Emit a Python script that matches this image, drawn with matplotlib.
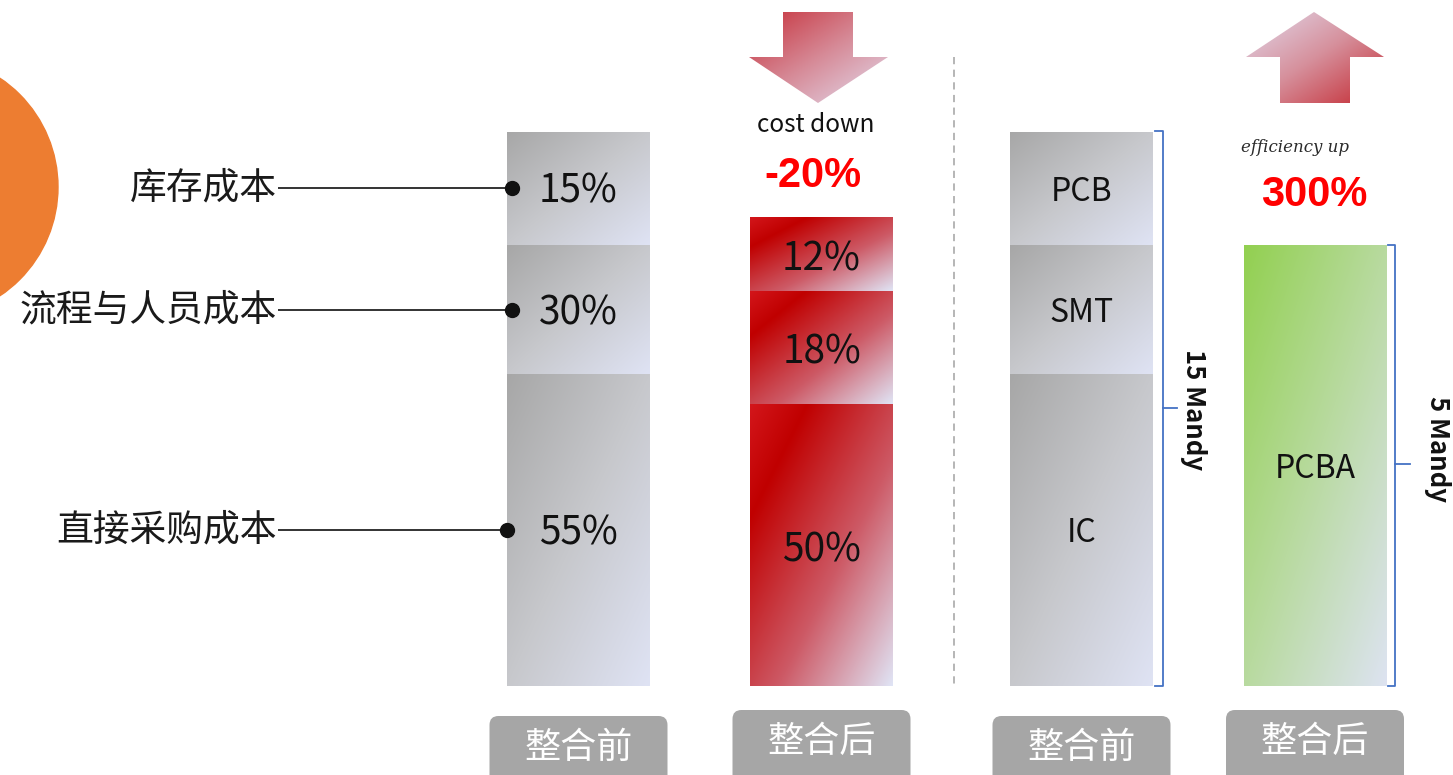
import numpy as np
import matplotlib
matplotlib.use('Agg')
import matplotlib.pyplot as plt
from matplotlib.colors import LinearSegmentedColormap
from matplotlib.patches import Polygon, FancyBboxPatch, Circle

plt.rcParams['font.family'] = ['Noto Sans CJK SC', 'DejaVu Sans']

# ---------------- data ----------------
cost_categories = ['直接采购成本', '流程与人员成本', '库存成本']   # bottom -> top
cost_before = [55, 30, 15]
cost_after = [50, 18, 12]
# drawn segment heights as they appear in the picture (first bar = 100)
cost_before_heights = [56.2, 23.2, 20.5]
cost_after_heights = [50.8, 20.4, 13.3]
process_before = ['IC', 'SMT', 'PCB']
process_before_heights = [56.2, 23.2, 20.5]
process_after = ['PCBA']
process_after_heights = [79.5]
stage_labels = ['整合前', '整合后', '整合前', '整合后']
cost_change = '-20%'
eff_change = '300%'
staff_before = '15 Mandy'
staff_after = '5 Mandy'

# ---------------- style ----------------
W, H = 1453, 775
bar_centers = [578.5, 821.5, 1081.5, 1315.0]
bar_width = 143
GRAY = ['#a7a7a7', '#c7c8cc', '#dfe3f4']
RED = [(0.0, '#d3161b'), (0.2, '#c00000'), (0.6, '#cd5a66'), (1.0, '#e0e4f5')]
GREEN = ['#92d050', '#b8da9f', '#dde3f1']
LIGHT = 'light'


def grad_img(stops, n=200):
    cmap = LinearSegmentedColormap.from_list('g', stops)
    u = np.linspace(0, 1, n)
    t = (u[None, :] + u[:, None]) / 2.0
    return cmap(t)


fig = plt.figure(figsize=(W / 100, H / 100), dpi=100)

# decoration axes in pixel coordinates
dax = fig.add_axes([0, 0, 1, 1], zorder=0)
dax.set_xlim(0, W)
dax.set_ylim(H, 0)
dax.axis('off')

# bar axes: y in drawn-height units, bottom at pixel 686, top (100) at pixel 131
bax = fig.add_axes([0, (H - 686) / H, 1, (686 - 131) / H], zorder=1)
bax.patch.set_alpha(0)
bax.axis('off')

# ---- orange circle ----
dax.add_patch(Circle((-73, 187), 131, color='#ed7d31', zorder=1))

# ---- bars ----
def stacked(xc, heights, stops, labels, fs, dy=-0.6):
    bottoms = np.concatenate([[0], np.cumsum(heights)[:-1]])
    bars = bax.bar([xc] * len(heights), heights, bottom=bottoms, width=bar_width,
                   color='none', edgecolor='none', zorder=2)
    img = grad_img(stops)
    for p, lab in zip(bars.patches, labels):
        bb = p.get_bbox()
        im = bax.imshow(img, extent=(bb.x0, bb.x1, bb.y0, bb.y1), origin='upper',
                        aspect='auto', interpolation='bilinear', zorder=1)
        im.set_clip_path(p)
        bax.text((bb.x0 + bb.x1) / 2, (bb.y0 + bb.y1) / 2 + dy, lab, ha='center', va='center',
                 fontsize=fs, color='#111111', fontweight=LIGHT, zorder=3)
    return bars

b1 = stacked(bar_centers[0], cost_before_heights, GRAY, [f'{v}%' for v in cost_before], 28)
b2 = stacked(bar_centers[1], cost_after_heights, RED, [f'{v}%' for v in cost_after], 28, dy=-1.0)
b3 = stacked(bar_centers[2], process_before_heights, GRAY, process_before, 23)
b4 = stacked(bar_centers[3], process_after_heights, GREEN, process_after, 23)

bax.set_xlim(0, W)
bax.set_ylim(0, 100)

# ---- category labels with leader lines ----
dot_x = [507, 512, 512]
for p, name, dx in zip(b1.patches, cost_categories, dot_x):
    bb = p.get_bbox()
    yc = (bb.y0 + bb.y1) / 2
    bax.plot([278, dx], [yc, yc], color='#111111', lw=1.2, zorder=4, solid_capstyle='butt')
    bax.plot([dx], [yc], 'o', color='#111111', ms=10, zorder=5)
    bax.text(277, yc, name, ha='right', va='center', fontsize=26.5, color='#1a1a1a',
             fontweight=LIGHT, zorder=4)

# ---- dashed separator ----
dax.plot([954, 954], [57, 686], color='#b0b0b0', lw=1.3, ls=(0, (4, 3)), zorder=1)

# ---- arrows ----
def grad_poly(verts, stops):
    poly = Polygon(verts, closed=True, facecolor='none', edgecolor='none', zorder=2)
    dax.add_patch(poly)
    xs = [v[0] for v in verts]
    ys = [v[1] for v in verts]
    im = dax.imshow(grad_img(stops), extent=(min(xs), max(xs), max(ys), min(ys)),
                    origin='upper', aspect='auto', interpolation='bilinear', zorder=2)
    im.set_clip_path(poly)

down = [(783, 12), (853, 12), (853, 57), (888, 57), (818, 103), (749, 57), (783, 57)]
grad_poly(down, ['#c6303a', '#d68a97', '#e4dcee'])
up = [(1314, 12), (1384, 57), (1350, 57), (1350, 103), (1280, 103), (1280, 57), (1246, 57)]
grad_poly(up, ['#e2daec', '#d6909c', '#c42a32'])

dax.text(816, 125, 'cost down', ha='center', va='center', fontsize=17.5, color='#111111',
         fontweight=LIGHT, zorder=3)
dax.text(813, 176, cost_change, ha='center', va='center', fontsize=30, color='#ff0000',
         fontweight='bold', family=['Liberation Sans', 'DejaVu Sans'], zorder=3)
dax.text(1295, 148, 'efficiency up', ha='center', va='center', fontsize=12, color='#2a2a2a',
         family='DejaVu Serif', style='italic', zorder=3)
dax.text(1314, 195, eff_change, ha='center', va='center', fontsize=30, color='#ff0000',
         fontweight='bold', family=['Liberation Sans', 'DejaVu Sans'], zorder=3)

# ---- brackets ----
def bracket(x0, x1, top, bot, tick_y, tick_x):
    dax.plot([x0, x1, x1, x0], [top, top, bot, bot], color='#4472c4', lw=1.3, zorder=3,
             solid_joinstyle='round')
    dax.plot([x1, tick_x], [tick_y, tick_y], color='#4472c4', lw=1.3, zorder=3)

bracket(1155, 1163, 131, 686, 408, 1177)
bracket(1388, 1395, 245, 686, 464, 1410)
dax.text(1194, 410, staff_before, rotation=-90, ha='center', va='center', fontsize=18.5,
         fontweight='bold', color='#111111', zorder=3)
dax.text(1438, 449, staff_after, rotation=-90, ha='center', va='center', fontsize=18.5,
         fontweight='bold', color='#111111', zorder=3)

# ---- bottom stage boxes ----
box_tops = [716, 710, 716, 710]
box_w = 178
for xc, top, lab in zip(bar_centers, box_tops, stage_labels):
    dax.add_patch(FancyBboxPatch((xc - box_w / 2, top), box_w, 90,
                                 boxstyle='round,pad=0,rounding_size=9',
                                 facecolor='#a6a6a6', edgecolor='none', zorder=2))
    dax.text(xc, top + 32, lab, ha='center', va='center', fontsize=26, color='white',
             fontweight=LIGHT, zorder=3)

dax.set_xlim(0, W)
dax.set_ylim(H, 0)

fig.savefig('out.png', dpi=100)
